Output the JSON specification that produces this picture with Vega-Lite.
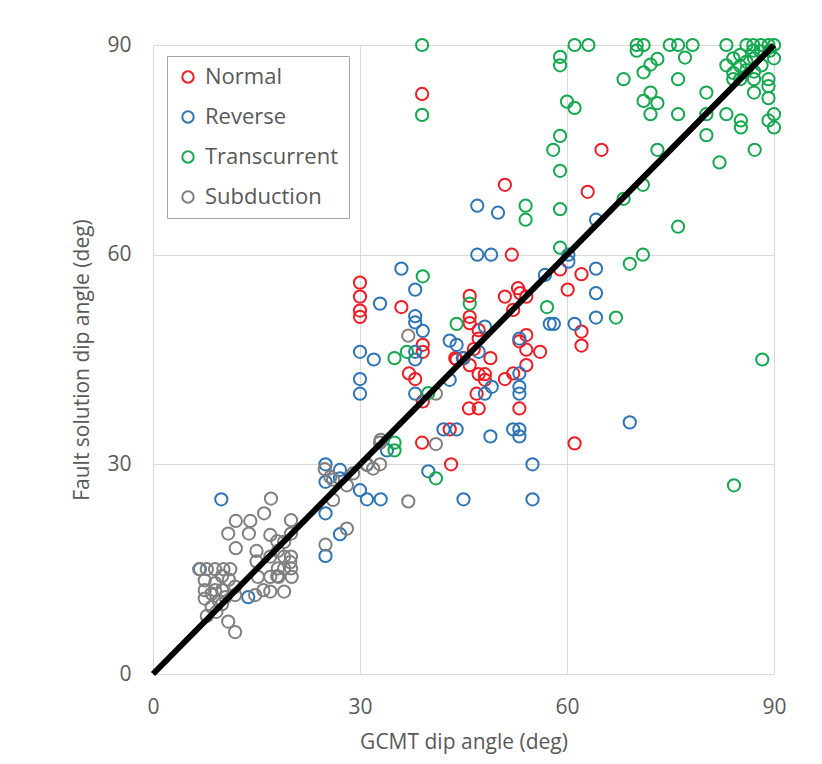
{
  "$schema": "https://vega.github.io/schema/vega-lite/v6.json",
  "width": 621,
  "height": 629,
  "autosize": {"type": "none"},
  "padding": {"left": 153, "top": 45, "right": 48, "bottom": 90},
  "background": "white",
  "config": {
    "view": {"stroke": null},
    "font": "Open Sans",
    "axis": {
      "grid": true, "gridColor": "#d9d9d9", "gridWidth": 1, "domain": false, "ticks": false,
      "labelFontSize": 21, "labelColor": "#595959", "titleFontSize": 21, "titleColor": "#595959",
      "titleFontWeight": "normal", "labelPadding": 22, "labelFlush": false
    }
  },
  "datasets": {
    "pts": [
      {"g":30,"f":56,"t":"Normal"},{"g":30,"f":54,"t":"Normal"},{"g":30,"f":52,"t":"Normal"},{"g":30,"f":51.1,"t":"Normal"},{"g":36,"f":52.5,"t":"Normal"},{"g":39,"f":83,"t":"Normal"},{"g":39.1,"f":47.1,"t":"Normal"},{"g":39.1,"f":46.1,"t":"Normal"},{"g":37.1,"f":43,"t":"Normal"},{"g":38,"f":42.2,"t":"Normal"},{"g":39.1,"f":39,"t":"Normal"},{"g":39,"f":33.1,"t":"Normal"},{"g":43,"f":35,"t":"Normal"},{"g":43.2,"f":30,"t":"Normal"},{"g":43.8,"f":45.2,"t":"Normal"},{"g":45,"f":45.2,"t":"Normal"},{"g":45.9,"f":44.2,"t":"Normal"},{"g":45.9,"f":54.1,"t":"Normal"},{"g":45.9,"f":51.1,"t":"Normal"},{"g":45.9,"f":50.2,"t":"Normal"},{"g":47.2,"f":49.2,"t":"Normal"},{"g":47.2,"f":48,"t":"Normal"},{"g":47.2,"f":42.9,"t":"Normal"},{"g":48.1,"f":42.9,"t":"Normal"},{"g":48.1,"f":42.1,"t":"Normal"},{"g":46.9,"f":40.1,"t":"Normal"},{"g":45.8,"f":38,"t":"Normal"},{"g":47.2,"f":38,"t":"Normal"},{"g":48.9,"f":45.2,"t":"Normal"},{"g":51,"f":54,"t":"Normal"},{"g":52.9,"f":55.2,"t":"Normal"},{"g":54.1,"f":54,"t":"Normal"},{"g":52.2,"f":52.1,"t":"Normal"},{"g":53.2,"f":54.5,"t":"Normal"},{"g":54.1,"f":48.5,"t":"Normal"},{"g":53.1,"f":47.6,"t":"Normal"},{"g":54.1,"f":46.4,"t":"Normal"},{"g":56.1,"f":46.1,"t":"Normal"},{"g":54.1,"f":44.2,"t":"Normal"},{"g":52.2,"f":43,"t":"Normal"},{"g":51,"f":42.2,"t":"Normal"},{"g":53.1,"f":38,"t":"Normal"},{"g":51,"f":70,"t":"Normal"},{"g":52,"f":60,"t":"Normal"},{"g":63,"f":69,"t":"Normal"},{"g":65,"f":75,"t":"Normal"},{"g":59,"f":57.9,"t":"Normal"},{"g":62.1,"f":57.2,"t":"Normal"},{"g":60.1,"f":55,"t":"Normal"},{"g":62.1,"f":49,"t":"Normal"},{"g":62.1,"f":47,"t":"Normal"},{"g":61.1,"f":33,"t":"Normal"},{"g":44,"f":45,"t":"Normal"},{"g":46.5,"f":46.5,"t":"Normal"},
      {"g":36,"f":58,"t":"Reverse"},{"g":38,"f":55,"t":"Reverse"},{"g":32.9,"f":53,"t":"Reverse"},{"g":38,"f":51.2,"t":"Reverse"},{"g":38,"f":50.3,"t":"Reverse"},{"g":39.1,"f":49.1,"t":"Reverse"},{"g":30,"f":46.1,"t":"Reverse"},{"g":32,"f":45,"t":"Reverse"},{"g":38,"f":46.1,"t":"Reverse"},{"g":38,"f":45,"t":"Reverse"},{"g":30,"f":42.2,"t":"Reverse"},{"g":30,"f":40.1,"t":"Reverse"},{"g":38,"f":40.1,"t":"Reverse"},{"g":43,"f":47.7,"t":"Reverse"},{"g":44,"f":47.1,"t":"Reverse"},{"g":43,"f":42.1,"t":"Reverse"},{"g":48.1,"f":49.7,"t":"Reverse"},{"g":47.2,"f":46.1,"t":"Reverse"},{"g":44.9,"f":45.2,"t":"Reverse"},{"g":49.1,"f":41.1,"t":"Reverse"},{"g":48.1,"f":40.1,"t":"Reverse"},{"g":53.1,"f":48,"t":"Reverse"},{"g":53.1,"f":43,"t":"Reverse"},{"g":53.1,"f":41.1,"t":"Reverse"},{"g":53.1,"f":40.1,"t":"Reverse"},{"g":52.2,"f":35,"t":"Reverse"},{"g":53.1,"f":35,"t":"Reverse"},{"g":53.1,"f":34,"t":"Reverse"},{"g":42.1,"f":35,"t":"Reverse"},{"g":44,"f":35,"t":"Reverse"},{"g":48.9,"f":34,"t":"Reverse"},{"g":56.8,"f":57.1,"t":"Reverse"},{"g":57.5,"f":50.1,"t":"Reverse"},{"g":60.2,"f":59,"t":"Reverse"},{"g":64.2,"f":58,"t":"Reverse"},{"g":64.2,"f":54.5,"t":"Reverse"},{"g":64.2,"f":51,"t":"Reverse"},{"g":58.1,"f":50.1,"t":"Reverse"},{"g":61.1,"f":50.1,"t":"Reverse"},{"g":69.1,"f":36,"t":"Reverse"},{"g":55,"f":30,"t":"Reverse"},{"g":55,"f":25,"t":"Reverse"},{"g":45,"f":25,"t":"Reverse"},{"g":31,"f":25,"t":"Reverse"},{"g":33,"f":25,"t":"Reverse"},{"g":9.9,"f":25,"t":"Reverse"},{"g":25,"f":30,"t":"Reverse"},{"g":25,"f":27.5,"t":"Reverse"},{"g":27.1,"f":29.2,"t":"Reverse"},{"g":27.1,"f":28,"t":"Reverse"},{"g":25,"f":23,"t":"Reverse"},{"g":27.1,"f":20,"t":"Reverse"},{"g":25,"f":16.9,"t":"Reverse"},{"g":30,"f":26.3,"t":"Reverse"},{"g":39.9,"f":29,"t":"Reverse"},{"g":31,"f":30,"t":"Reverse"},{"g":33.9,"f":32,"t":"Reverse"},{"g":6.8,"f":15,"t":"Reverse"},{"g":13.8,"f":11,"t":"Reverse"},{"g":47,"f":67,"t":"Reverse"},{"g":50,"f":66,"t":"Reverse"},{"g":64.2,"f":65,"t":"Reverse"},{"g":47,"f":60,"t":"Reverse"},{"g":49,"f":60,"t":"Reverse"},{"g":60.2,"f":60,"t":"Reverse"},
      {"g":39,"f":90,"t":"Transcurrent"},{"g":39,"f":80,"t":"Transcurrent"},{"g":59,"f":88.3,"t":"Transcurrent"},{"g":59,"f":87.1,"t":"Transcurrent"},{"g":61.1,"f":90,"t":"Transcurrent"},{"g":63.1,"f":90,"t":"Transcurrent"},{"g":60,"f":81.9,"t":"Transcurrent"},{"g":61.1,"f":81,"t":"Transcurrent"},{"g":59,"f":77,"t":"Transcurrent"},{"g":58,"f":75,"t":"Transcurrent"},{"g":59,"f":72,"t":"Transcurrent"},{"g":54,"f":67,"t":"Transcurrent"},{"g":54,"f":65,"t":"Transcurrent"},{"g":59,"f":66.5,"t":"Transcurrent"},{"g":71,"f":70,"t":"Transcurrent"},{"g":68.2,"f":68,"t":"Transcurrent"},{"g":76.1,"f":64,"t":"Transcurrent"},{"g":59,"f":61,"t":"Transcurrent"},{"g":71,"f":60,"t":"Transcurrent"},{"g":69.1,"f":58.7,"t":"Transcurrent"},{"g":70.1,"f":90,"t":"Transcurrent"},{"g":71.1,"f":90,"t":"Transcurrent"},{"g":74.9,"f":90,"t":"Transcurrent"},{"g":76.1,"f":90,"t":"Transcurrent"},{"g":78.2,"f":90,"t":"Transcurrent"},{"g":70.1,"f":89.2,"t":"Transcurrent"},{"g":73.1,"f":88,"t":"Transcurrent"},{"g":72.1,"f":87.2,"t":"Transcurrent"},{"g":71.1,"f":86.1,"t":"Transcurrent"},{"g":77.1,"f":88.2,"t":"Transcurrent"},{"g":68.2,"f":85.1,"t":"Transcurrent"},{"g":76.1,"f":85.1,"t":"Transcurrent"},{"g":72.1,"f":83.2,"t":"Transcurrent"},{"g":71.1,"f":82,"t":"Transcurrent"},{"g":73.1,"f":81.7,"t":"Transcurrent"},{"g":72.1,"f":80.1,"t":"Transcurrent"},{"g":76.1,"f":80.1,"t":"Transcurrent"},{"g":80.2,"f":83.2,"t":"Transcurrent"},{"g":80.2,"f":80.1,"t":"Transcurrent"},{"g":80.2,"f":77.1,"t":"Transcurrent"},{"g":73.1,"f":75,"t":"Transcurrent"},{"g":82.1,"f":73.2,"t":"Transcurrent"},{"g":87.2,"f":75,"t":"Transcurrent"},{"g":83.1,"f":80.1,"t":"Transcurrent"},{"g":85.2,"f":79.2,"t":"Transcurrent"},{"g":85.2,"f":78.2,"t":"Transcurrent"},{"g":89.2,"f":79.2,"t":"Transcurrent"},{"g":90,"f":80.1,"t":"Transcurrent"},{"g":90,"f":78.2,"t":"Transcurrent"},{"g":83.1,"f":90,"t":"Transcurrent"},{"g":86,"f":90,"t":"Transcurrent"},{"g":87,"f":90,"t":"Transcurrent"},{"g":88.1,"f":90,"t":"Transcurrent"},{"g":89.2,"f":90,"t":"Transcurrent"},{"g":90,"f":90,"t":"Transcurrent"},{"g":87,"f":89.2,"t":"Transcurrent"},{"g":88,"f":89.1,"t":"Transcurrent"},{"g":89.4,"f":89.2,"t":"Transcurrent"},{"g":83.1,"f":87.1,"t":"Transcurrent"},{"g":84.1,"f":88.1,"t":"Transcurrent"},{"g":85.1,"f":88.6,"t":"Transcurrent"},{"g":86,"f":87.6,"t":"Transcurrent"},{"g":87.1,"f":88.1,"t":"Transcurrent"},{"g":84.1,"f":86,"t":"Transcurrent"},{"g":85.1,"f":87,"t":"Transcurrent"},{"g":86,"f":86.4,"t":"Transcurrent"},{"g":84.1,"f":85.1,"t":"Transcurrent"},{"g":85.1,"f":85.1,"t":"Transcurrent"},{"g":87.1,"f":85.1,"t":"Transcurrent"},{"g":87.1,"f":86.2,"t":"Transcurrent"},{"g":88.2,"f":87.1,"t":"Transcurrent"},{"g":90,"f":88.1,"t":"Transcurrent"},{"g":89.2,"f":85.1,"t":"Transcurrent"},{"g":89.2,"f":84.1,"t":"Transcurrent"},{"g":89.2,"f":82.4,"t":"Transcurrent"},{"g":87.1,"f":83.2,"t":"Transcurrent"},{"g":88.3,"f":45,"t":"Transcurrent"},{"g":84.2,"f":27,"t":"Transcurrent"},{"g":67.1,"f":51,"t":"Transcurrent"},{"g":57.1,"f":52.5,"t":"Transcurrent"},{"g":39.1,"f":56.9,"t":"Transcurrent"},{"g":45.9,"f":53,"t":"Transcurrent"},{"g":44,"f":50.1,"t":"Transcurrent"},{"g":35,"f":45.2,"t":"Transcurrent"},{"g":36.8,"f":46.1,"t":"Transcurrent"},{"g":39.9,"f":40.2,"t":"Transcurrent"},{"g":35,"f":33.1,"t":"Transcurrent"},{"g":35,"f":32,"t":"Transcurrent"},{"g":41,"f":28,"t":"Transcurrent"},
      {"g":17.1,"f":25.1,"t":"Subduction"},{"g":16.1,"f":23,"t":"Subduction"},{"g":12,"f":21.9,"t":"Subduction"},{"g":14.1,"f":21.9,"t":"Subduction"},{"g":10.9,"f":20.1,"t":"Subduction"},{"g":13.9,"f":20.1,"t":"Subduction"},{"g":12,"f":18,"t":"Subduction"},{"g":17,"f":19.9,"t":"Subduction"},{"g":20,"f":22,"t":"Subduction"},{"g":20,"f":20.1,"t":"Subduction"},{"g":19,"f":18.9,"t":"Subduction"},{"g":15,"f":17.6,"t":"Subduction"},{"g":15,"f":16.1,"t":"Subduction"},{"g":17,"f":16.8,"t":"Subduction"},{"g":18.1,"f":17.6,"t":"Subduction"},{"g":19,"f":16.8,"t":"Subduction"},{"g":20,"f":16.8,"t":"Subduction"},{"g":18.1,"f":15.1,"t":"Subduction"},{"g":19,"f":15.1,"t":"Subduction"},{"g":20,"f":15.1,"t":"Subduction"},{"g":15.2,"f":13.9,"t":"Subduction"},{"g":17,"f":13.9,"t":"Subduction"},{"g":18.2,"f":13.9,"t":"Subduction"},{"g":20.1,"f":13.9,"t":"Subduction"},{"g":17,"f":11.8,"t":"Subduction"},{"g":19,"f":11.8,"t":"Subduction"},{"g":6.7,"f":15,"t":"Subduction"},{"g":7.8,"f":15,"t":"Subduction"},{"g":9,"f":15,"t":"Subduction"},{"g":10.2,"f":15,"t":"Subduction"},{"g":11.2,"f":15,"t":"Subduction"},{"g":11.9,"f":12.5,"t":"Subduction"},{"g":11.9,"f":11.3,"t":"Subduction"},{"g":10.9,"f":7.5,"t":"Subduction"},{"g":11.9,"f":6,"t":"Subduction"},{"g":8.5,"f":9.6,"t":"Subduction"},{"g":9.2,"f":8.9,"t":"Subduction"},{"g":7.8,"f":8.3,"t":"Subduction"},{"g":7.5,"f":13.4,"t":"Subduction"},{"g":7.5,"f":12,"t":"Subduction"},{"g":7.5,"f":10.8,"t":"Subduction"},{"g":14.8,"f":11.3,"t":"Subduction"},{"g":9,"f":13,"t":"Subduction"},{"g":10,"f":12,"t":"Subduction"},{"g":10.5,"f":11,"t":"Subduction"},{"g":9.5,"f":10.5,"t":"Subduction"},{"g":10,"f":14,"t":"Subduction"},{"g":11,"f":13.5,"t":"Subduction"},{"g":8.5,"f":11.5,"t":"Subduction"},{"g":10,"f":10,"t":"Subduction"},{"g":9,"f":12,"t":"Subduction"},{"g":32.9,"f":30,"t":"Subduction"},{"g":31.9,"f":29.4,"t":"Subduction"},{"g":31,"f":29.9,"t":"Subduction"},{"g":29,"f":28.7,"t":"Subduction"},{"g":28.1,"f":27,"t":"Subduction"},{"g":26.1,"f":24.9,"t":"Subduction"},{"g":28.1,"f":20.8,"t":"Subduction"},{"g":25,"f":18.5,"t":"Subduction"},{"g":24.9,"f":29.3,"t":"Subduction"},{"g":25.7,"f":28.2,"t":"Subduction"},{"g":26.1,"f":27.8,"t":"Subduction"},{"g":33,"f":33.5,"t":"Subduction"},{"g":41,"f":32.9,"t":"Subduction"},{"g":37,"f":24.7,"t":"Subduction"},{"g":37,"f":48.4,"t":"Subduction"},{"g":41,"f":40.1,"t":"Subduction"},{"g":32.9,"f":33.1,"t":"Subduction"},{"g":18,"f":14,"t":"Subduction"},{"g":16,"f":12,"t":"Subduction"},{"g":19.9,"f":16,"t":"Subduction"},{"g":18,"f":19,"t":"Subduction"}
    ],
    "fit": [{"g": 0, "f": 0}, {"g": 90, "f": 90}]
  },
  "layer": [
    {
      "data": {"name": "pts"},
      "mark": {"type": "point", "filled": false, "strokeWidth": 2, "size": 150, "opacity": 1},
      "encoding": {
        "x": {"field": "g", "type": "quantitative", "scale": {"domain": [0, 90], "nice": false},
              "axis": {"values": [0, 30, 60, 90], "title": "GCMT dip angle (deg)", "titlePadding": 14}},
        "y": {"field": "f", "type": "quantitative", "scale": {"domain": [0, 90], "nice": false},
              "axis": {"values": [0, 30, 60, 90], "title": "Fault solution dip angle (deg)", "titlePadding": 14}},
        "color": {
          "field": "t", "type": "nominal", "title": null,
          "scale": {"domain": ["Normal", "Reverse", "Transcurrent", "Subduction"],
                    "range": ["#ee1c25", "#2e75b6", "#14a84f", "#808080"]},
          "legend": {
            "orient": "none", "legendX": 14, "legendY": 11, "padding": 10, "rowPadding": 18,
            "labelFontSize": 22, "labelColor": "#595959", "symbolSize": 130, "symbolStrokeWidth": 2,
            "symbolType": "circle", "labelOffset": 6, "strokeColor": "#a6a6a6", "fillColor": "white"
          }
        }
      }
    },
    {
      "data": {"name": "fit"},
      "mark": {"type": "line", "color": "black", "strokeWidth": 6},
      "encoding": {
        "x": {"field": "g", "type": "quantitative"},
        "y": {"field": "f", "type": "quantitative"}
      }
    }
  ]
}
